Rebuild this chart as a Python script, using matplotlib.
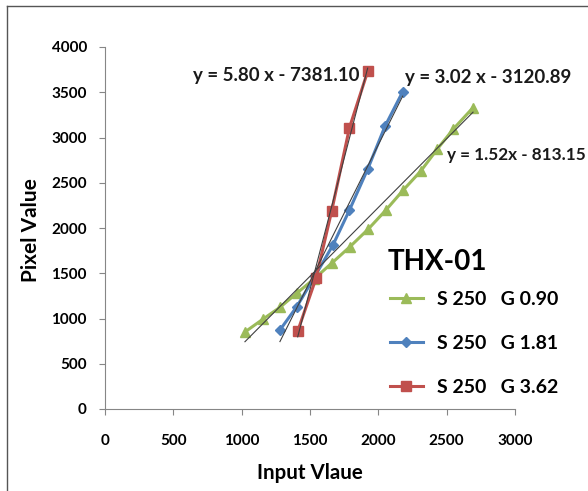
import matplotlib
matplotlib.use('Agg')
import matplotlib.pyplot as plt
from matplotlib.lines import Line2D
import numpy as np

plt.rcParams['font.family'] = ['Lato', 'DejaVu Sans']

# S 250 G 0.90 (green triangles)
x_g090 = [1024, 1154, 1280, 1402, 1529, 1658, 1793, 1927, 2056, 2183, 2311, 2432, 2549, 2693]
y_g090 = [851, 991, 1123, 1278, 1436, 1610, 1794, 1989, 2199, 2420, 2630, 2873, 3094, 3330]
# S 250 G 1.81 (blue diamonds)
x_g181 = [1280, 1403, 1537, 1668, 1789, 1924, 2049, 2178]
y_g181 = [873, 1130, 1470, 1812, 2199, 2657, 3125, 3505]
# S 250 G 3.62 (red squares)
x_g362 = [1410, 1544, 1659, 1789, 1922]
y_g362 = [860, 1444, 2191, 3110, 3730]

labels = ['S 250   G 0.90', 'S 250   G 1.81', 'S 250   G 3.62']
slopes = [1.52, 3.02, 5.80]
intercepts = [-813.15, -3120.89, -7381.10]
eq_texts = ['y = 1.52x - 813.15', 'y = 3.02 x - 3120.89', 'y = 5.80 x - 7381.10']
eq_pos = [(2502, 2807), (2195, 3668), (644, 3690)]
eq_sizes = [12.3, 13.5, 13.5]

colors = ['#9BBB59', '#4F81BD', '#C0504D']
markers = ['^', 'D', 's']
msizes = [7, 5, 7.5]

fig = plt.figure(figsize=(5.88, 4.91), dpi=100)
ax = fig.add_axes([105/588, 1 - 409/491, 410/588, 362/491])

series = [(x_g090, y_g090), (x_g181, y_g181), (x_g362, y_g362)]
for (xs, ys), c, m, ms, lab in zip(series, colors, markers, msizes, labels):
    ax.plot(xs, ys, color=c, marker=m, markersize=ms, linewidth=2.2,
            label=lab, zorder=2)

# linear trendlines
for (xs, ys), a, b in zip(series, slopes, intercepts):
    xx = np.array([min(xs), max(xs)])
    ax.plot(xx, a * xx + b, color='#404040', linewidth=0.8, zorder=3)

for txt, (tx, ty), fs in zip(eq_texts, eq_pos, eq_sizes):
    ax.text(tx, ty, txt, fontsize=fs, fontweight='bold', ha='left',
            va='center', clip_on=False, color='#1a1a1a')

ax.set_xlim(0, 3000)
ax.set_ylim(0, 4000)
ax.set_xticks(range(0, 3001, 500))
ax.set_yticks(range(0, 4001, 500))
for s in ['top', 'right']:
    ax.spines[s].set_visible(False)
for s in ['left', 'bottom']:
    ax.spines[s].set_color('#868686')
ax.tick_params(direction='out', length=4, color='#868686', labelsize=11)
for lbl in ax.get_xticklabels() + ax.get_yticklabels():
    lbl.set_fontweight('bold')
ax.tick_params(axis='x', pad=14)
ax.tick_params(axis='y', pad=9)

ax.set_xlabel('Input Vlaue', fontsize=14.8, fontweight='bold')
ax.set_ylabel('Pixel Value', fontsize=15, fontweight='bold')
ax.xaxis.set_label_coords(0.5, -0.15)
ax.yaxis.set_label_coords(-0.155, 0.494)

# legend title drawn as text, entries as a legend
ax.text(2071, 1624, 'THX-01', fontsize=20, fontweight='bold', ha='left',
        va='center')
leg = ax.legend(loc='upper left', bbox_to_anchor=(0.695, 0.327),
                frameon=False, fontsize=14, handlelength=1.7,
                labelspacing=1.4, handletextpad=0.72,
                borderpad=0, borderaxespad=0)
for t in leg.get_texts():
    t.set_fontweight('bold')

# outer frame (top and left edges)
fig.add_artist(Line2D([7/588, 7/588], [0, 1 - 6/491], color='#555555', linewidth=1))
fig.add_artist(Line2D([7/588, 1], [1 - 6/491, 1 - 6/491], color='#555555', linewidth=1))

fig.savefig('out.png', dpi=100)
plt.close(fig)
